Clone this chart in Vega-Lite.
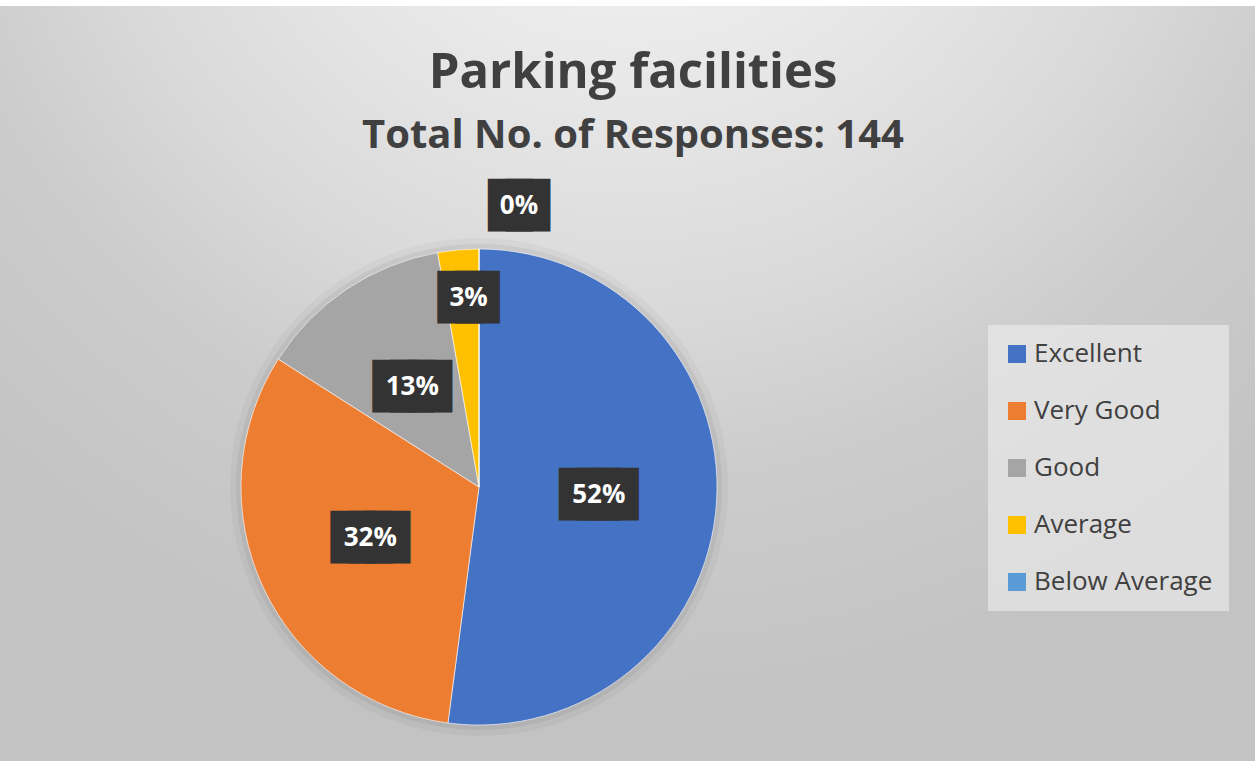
{
  "$schema": "https://vega.github.io/schema/vega-lite/v6.json",
  "width": 1552,
  "height": 962,
  "autosize": {"type": "none"},
  "padding": {"left": -297, "top": 6, "right": 0, "bottom": -207},
  "background": "#ffffff",
  "view": {
    "stroke": null,
    "fill": {
      "gradient": "radial",
      "x1": 0.597, "y1": 0.035, "r1": 0,
      "x2": 0.597, "y2": 0.035, "r2": 0.61,
      "stops": [
        {"offset": 0, "color": "#f7f7f7"},
        {"offset": 0.15, "color": "#f2f2f2"},
        {"offset": 0.4, "color": "#e4e4e4"},
        {"offset": 0.58, "color": "#d9d9d9"},
        {"offset": 0.75, "color": "#cccccc"},
        {"offset": 1, "color": "#c3c3c3"}
      ]
    }
  },
  "title": {
    "text": "Parking facilities",
    "subtitle": "Total No. of Responses: 144",
    "anchor": "middle",
    "frame": "group",
    "orient": "top",
    "offset": -150,
    "dx": 154,
    "font": "Open Sans",
    "fontSize": 49,
    "fontWeight": "bold",
    "color": "#404040",
    "subtitleFont": "Open Sans",
    "subtitleFontSize": 40,
    "subtitleFontWeight": "bold",
    "subtitleColor": "#404040",
    "subtitlePadding": 18
  },
  "data": {
    "values": [
      {"category": "Excellent", "count": 75, "rank": 1, "label": "52%"},
      {"category": "Very Good", "count": 46, "rank": 2, "label": "32%"},
      {"category": "Good", "count": 19, "rank": 3, "label": "13%"},
      {"category": "Average", "count": 4, "rank": 4, "label": "3%"},
      {"category": "Below Average", "count": 0, "rank": 5, "label": "0%"}
    ]
  },
  "encoding": {
    "theta": {"field": "count", "type": "quantitative", "stack": true},
    "order": {"field": "rank", "type": "quantitative"}
  },
  "layer": [
    {
      "mark": {"type": "arc", "outerRadius": 249, "fill": "#000000", "fillOpacity": 0.03, "strokeWidth": 0}
    },
    {
      "mark": {"type": "arc", "outerRadius": 243, "fill": "#000000", "fillOpacity": 0.05, "strokeWidth": 0}
    },
    {
      "mark": {"type": "arc", "outerRadius": 238, "stroke": "#ffffff", "strokeWidth": 1, "strokeOpacity": 0.6},
      "encoding": {
        "color": {
          "field": "category",
          "type": "nominal",
          "scale": {
            "domain": ["Excellent", "Very Good", "Good", "Average", "Below Average"],
            "range": ["#4472c4", "#ed7d31", "#a5a5a5", "#ffc000", "#5b9bd5"]
          },
          "legend": {
            "title": null,
            "orient": "none",
            "legendX": 1285,
            "legendY": 319,
            "symbolType": "square",
            "symbolSize": 324,
            "symbolStrokeWidth": 0,
            "symbolOpacity": 1,
            "labelFont": "Open Sans",
            "labelFontSize": 26,
            "labelColor": "#404040",
            "labelOffset": 4,
            "rowPadding": 31,
            "padding": 16,
            "fillColor": "rgba(238,238,238,0.6)",
            "labelLimit": 300
          }
        }
      }
    },
    {
      "mark": {"type": "text", "radius": 120, "dy": -4, "font": "DejaVu Sans Mono", "fontSize": 29.2, "fill": "#333333", "stroke": "#333333", "strokeWidth": 27, "strokeJoin": "miter"},
      "encoding": {
        "text": {"condition": {"test": "length(datum.label) >= 3", "value": "▆▆▆"}, "value": "▆▆"},
        "opacity": {"condition": {"test": "datum.rank <= 3", "value": 1}, "value": 0}
      }
    },
    {
      "mark": {"type": "text", "radius": 120, "font": "Open Sans", "fontSize": 26, "fontWeight": "bold", "color": "#ffffff"},
      "encoding": {
        "text": {"field": "label", "type": "nominal"},
        "opacity": {"condition": {"test": "datum.rank <= 3", "value": 1}, "value": 0}
      }
    },
    {
      "mark": {"type": "text", "radius": 188, "dx": 6, "dy": -6, "font": "DejaVu Sans Mono", "fontSize": 29.2, "fill": "#333333", "stroke": "#333333", "strokeWidth": 27, "strokeJoin": "miter"},
      "encoding": {
        "text": {"condition": {"test": "length(datum.label) >= 3", "value": "▆▆▆"}, "value": "▆▆"},
        "opacity": {"condition": {"test": "datum.rank == 4", "value": 1}, "value": 0}
      }
    },
    {
      "mark": {"type": "text", "radius": 188, "dx": 6, "dy": -2, "font": "Open Sans", "fontSize": 26, "fontWeight": "bold", "color": "#ffffff"},
      "encoding": {
        "text": {"field": "label", "type": "nominal"},
        "opacity": {"condition": {"test": "datum.rank == 4", "value": 1}, "value": 0}
      }
    },
    {
      "mark": {"type": "text", "radius": 281, "dx": 40, "dy": -4, "font": "DejaVu Sans Mono", "fontSize": 29.2, "fill": "#333333", "stroke": "#333333", "strokeWidth": 27, "strokeJoin": "miter"},
      "encoding": {
        "text": {"condition": {"test": "length(datum.label) >= 3", "value": "▆▆▆"}, "value": "▆▆"},
        "opacity": {"condition": {"test": "datum.rank == 5", "value": 1}, "value": 0}
      }
    },
    {
      "mark": {"type": "text", "radius": 281, "dx": 40, "font": "Open Sans", "fontSize": 26, "fontWeight": "bold", "color": "#ffffff"},
      "encoding": {
        "text": {"field": "label", "type": "nominal"},
        "opacity": {"condition": {"test": "datum.rank == 5", "value": 1}, "value": 0}
      }
    }
  ]
}
